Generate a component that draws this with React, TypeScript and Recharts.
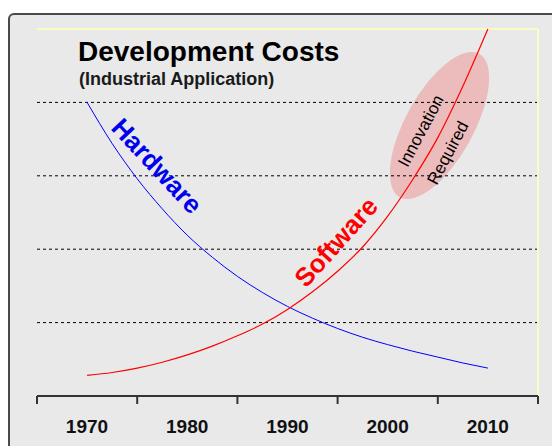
import React from "react";
import { LineChart, Line, XAxis, YAxis, ReferenceLine } from "recharts";

const years = [1970, 1972.5, 1975, 1977.5, 1980, 1982.5, 1985, 1987.5, 1990, 1992.5, 1995, 1997.5, 2000, 2002.5, 2005, 2007.5, 2010];
const hardware = [4.0, 3.44, 2.96, 2.55, 2.19, 1.89, 1.63, 1.41, 1.22, 1.06, 0.92, 0.8, 0.7, 0.61, 0.53, 0.45, 0.38];
const software = [0.28, 0.32, 0.38, 0.46, 0.56, 0.68, 0.82, 0.98, 1.18, 1.42, 1.7, 2.03, 2.45, 2.95, 3.52, 4.22, 5.0];

// tick marks sit between decades, labels sit in the middle of each band
const markYears = [1965, 1975, 1985, 1995, 2005, 2015];
const tickLabels = ["1970", "1980", "1990", "2000", "2010"];
const gridValues = [1, 2, 3, 4];

const data = years.map((year, i) => ({ year, hardware: hardware[i], software: software[i] }));

const FONT = "Arial, 'Liberation Sans', sans-serif";

function DecadeTick(props: any) {
  const { x, y, index } = props;
  const label = tickLabels[index];
  if (!label) return null;
  return (
    <text x={x + 50} y={y + 27} textAnchor="middle" fontFamily={FONT} fontWeight="bold" fontSize={19} fill="#111">
      {label}
    </text>
  );
}

export default function App() {
  return (
    <div style={{ position: "fixed", inset: 0, overflow: "hidden", background: "#fff" }}>
      <div
        style={{
          position: "absolute",
          left: 8,
          top: 13,
          width: 600,
          height: 500,
          border: "2px solid #4a4a4a",
          borderRadius: 6,
          background: "#e9e9e9",
        }}
      />
      <svg width={552} height={446} style={{ position: "absolute", left: 0, top: 0 }}>
        <ellipse cx={439.5} cy={125.5} rx={82} ry={34} fill="#ecbcbc" transform="rotate(-61 439.5 125.5)" />
      </svg>
      <div style={{ position: "absolute", left: 0, top: 0 }}>
        <LineChart width={552} height={446} data={data} margin={{ top: 29, right: 14, left: 37, bottom: 0 }}>
          <XAxis
            dataKey="year"
            type="number"
            domain={[1965, 2015]}
            ticks={markYears}
            height={50}
            interval={0}
            axisLine={{ stroke: "#333", strokeWidth: 2 }}
            tickLine={{ stroke: "#333", strokeWidth: 2 }}
            tickSize={8}
            tick={<DecadeTick />}
          />
          <YAxis
            type="number"
            domain={[0, 5]}
            ticks={gridValues}
            width={0}
            tick={false}
            tickLine={false}
            axisLine={{ stroke: "#333", strokeWidth: 2 }}
          />
          {gridValues.map((v) => (
            <ReferenceLine key={v} y={v} stroke="#000" strokeDasharray="3 3" />
          ))}
          <ReferenceLine y={5} stroke="#fbfbc4" strokeWidth={2} />
          <ReferenceLine x={2015} stroke="#fbfbc4" strokeWidth={2} />
          <Line type="monotone" dataKey="hardware" stroke="#0000ff" strokeWidth={1} dot={false} isAnimationActive={false} />
          <Line type="monotone" dataKey="software" stroke="#ff0000" strokeWidth={1.2} dot={false} isAnimationActive={false} />
        </LineChart>
      </div>
      <svg width={552} height={446} style={{ position: "absolute", left: 0, top: 0, pointerEvents: "none" }}>
        <text x={78} y={61} fontFamily={FONT} fontWeight="bold" fontSize={28} fill="#000">
          Development Costs
        </text>
        <text x={79} y={85} fontFamily={FONT} fontWeight="bold" fontSize={18} fill="#1a1a1a">
          (Industrial Application)
        </text>
        <text
          x={157}
          y={166}
          textAnchor="middle"
          dominantBaseline="central"
          fontFamily={FONT}
          fontWeight="bold"
          fontSize={26}
          fill="#0000f0"
          transform="rotate(47 157 166)"
        >
          Hardware
        </text>
        <text
          x={336}
          y={242}
          textAnchor="middle"
          dominantBaseline="central"
          fontFamily={FONT}
          fontWeight="bold"
          fontSize={26}
          fill="#ff0000"
          transform="rotate(-48 336 242)"
        >
          Software
        </text>
        <text
          x={421}
          y={131}
          textAnchor="middle"
          dominantBaseline="central"
          fontFamily={FONT}
          fontSize={17}
          fill="#000"
          transform="rotate(-62 421 131)"
        >
          Innovation
        </text>
        <text
          x={448}
          y={153}
          textAnchor="middle"
          dominantBaseline="central"
          fontFamily={FONT}
          fontSize={17}
          fill="#000"
          transform="rotate(-62 448 153)"
        >
          Required
        </text>
      </svg>
    </div>
  );
}
